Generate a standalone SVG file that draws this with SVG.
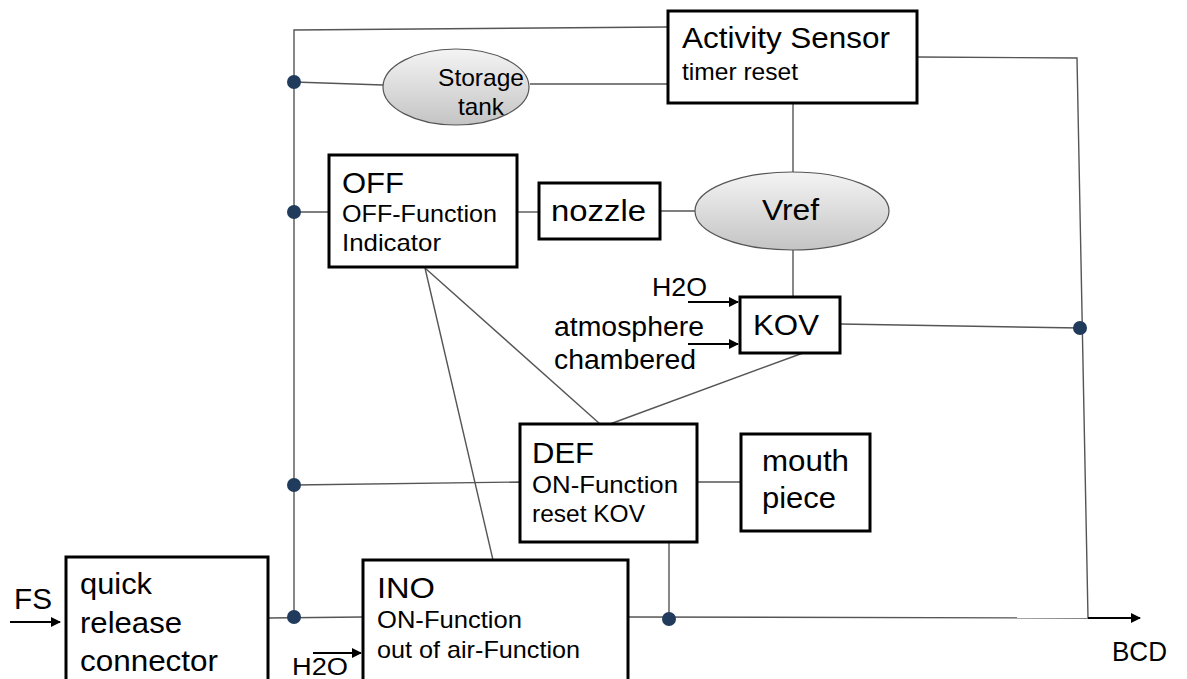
<svg xmlns="http://www.w3.org/2000/svg" width="1187" height="679" viewBox="0 0 1187 679">
<style>
.box{fill:#fff;stroke:#000;stroke-width:3}
.ell{fill:url(#g);stroke:#555;stroke-width:1.2}
.ln{fill:none;stroke:#555;stroke-width:1.4}
.ar{fill:none;stroke:#000;stroke-width:2;marker-end:url(#ah)}
.dot{fill:#203b5c}
text{font-family:"Liberation Sans",Arial,sans-serif;fill:#000}
.big{font-size:29px}
.sm{font-size:24px}
</style>
<defs>
<linearGradient id="g" x1="0" y1="0" x2="0" y2="1">
<stop offset="0" stop-color="#f4f4f4"/>
<stop offset="1" stop-color="#c4c4c4"/>
</linearGradient>
<marker id="ah" viewBox="0 0 10 10" refX="9" refY="5" markerWidth="5" markerHeight="5" orient="auto" markerUnits="strokeWidth">
<path d="M0,0 L10,5 L0,10 z" fill="#000"/>
</marker>
</defs>
<g id="connectors">
<path class="ln" d="M668,27 L294,30 L294,617"/>
<path class="ln" d="M294,82 L383,85"/>
<path class="ln" d="M530,84 L668,84"/>
<path class="ln" d="M917,57 L1077,58 L1088,618"/>
<path class="ln" d="M793,103 L793,172"/>
<path class="ln" d="M294,212 L329,212"/>
<path class="ln" d="M517,212 L539,212"/>
<path class="ln" d="M660,211 L695,211"/>
<path class="ln" d="M793,250 L793,297"/>
<path class="ln" d="M840,324 L1080,328"/>
<path class="ln" d="M425,268 L600,424"/>
<path class="ln" d="M425,268 L493,560"/>
<path class="ln" d="M803,353 L610,424"/>
<path class="ln" d="M294,485 L520,482"/>
<path class="ln" d="M697,482 L741,482"/>
<path class="ln" d="M669,542 L669,619"/>
<path class="ln" d="M268,618 L363,617"/>
<path class="ln" d="M628,617 L1088,618"/>
<path class="ar" d="M1088,618 L1140,618"/>
<path class="ar" d="M10,622 L60,622"/>
<path class="ar" d="M313,653 L361,653"/>
<path class="ar" d="M688,302 L738,302"/>
<path class="ar" d="M688,344 L738,344"/>
<circle class="dot" cx="294" cy="82" r="7"/>
<circle class="dot" cx="294" cy="212" r="7"/>
<circle class="dot" cx="294" cy="485" r="7"/>
<circle class="dot" cx="294" cy="617" r="7"/>
<circle class="dot" cx="1080" cy="328" r="7"/>
<circle class="dot" cx="669" cy="619" r="7"/>
</g>
<g id="activity-sensor">
<rect class="box" x="668" y="11" width="249" height="92"/>
<text class="big" x="682" y="48" textLength="208" lengthAdjust="spacingAndGlyphs">Activity Sensor</text>
<text class="sm" x="682" y="80" textLength="116" lengthAdjust="spacingAndGlyphs">timer reset</text>
</g>
<g id="storage-tank">
<ellipse class="ell" cx="456" cy="87" rx="73" ry="38"/>
<text class="sm" x="438" y="86" textLength="86" lengthAdjust="spacingAndGlyphs">Storage</text>
<text class="sm" x="458" y="115" textLength="46" lengthAdjust="spacingAndGlyphs">tank</text>
</g>
<g id="off">
<rect class="box" x="329" y="155" width="188" height="112"/>
<text class="big" x="342" y="193" textLength="62" lengthAdjust="spacingAndGlyphs">OFF</text>
<text class="sm" x="342" y="222" textLength="155" lengthAdjust="spacingAndGlyphs">OFF-Function</text>
<text class="sm" x="342" y="251" textLength="99" lengthAdjust="spacingAndGlyphs">Indicator</text>
</g>
<g id="nozzle">
<rect class="box" x="539" y="183" width="121" height="56"/>
<text class="big" x="551" y="221" textLength="95" lengthAdjust="spacingAndGlyphs">nozzle</text>
</g>
<g id="vref">
<ellipse class="ell" cx="792" cy="211" rx="97" ry="39"/>
<text class="big" x="762" y="220" textLength="57" lengthAdjust="spacingAndGlyphs">Vref</text>
</g>
<g id="kov">
<rect class="box" x="740" y="297" width="100" height="56"/>
<text class="big" x="753" y="335" textLength="66" lengthAdjust="spacingAndGlyphs">KOV</text>
</g>
<g id="kov-inputs">
<text class="sm" x="652" y="296" textLength="55" lengthAdjust="spacingAndGlyphs" style="font-size:25px">H2O</text>
<text class="sm" x="554" y="336" textLength="150" lengthAdjust="spacingAndGlyphs" style="font-size:27px">atmosphere</text>
<text class="sm" x="554" y="369" textLength="142" lengthAdjust="spacingAndGlyphs" style="font-size:27px">chambered</text>
</g>
<g id="def">
<rect class="box" x="520" y="424" width="177" height="118"/>
<text class="big" x="532" y="463" textLength="62" lengthAdjust="spacingAndGlyphs">DEF</text>
<text class="sm" x="532" y="493" textLength="146" lengthAdjust="spacingAndGlyphs">ON-Function</text>
<text class="sm" x="532" y="522" textLength="113" lengthAdjust="spacingAndGlyphs">reset KOV</text>
</g>
<g id="mouth-piece">
<rect class="box" x="741" y="434" width="129" height="97"/>
<text class="big" x="762" y="471" textLength="87" lengthAdjust="spacingAndGlyphs">mouth</text>
<text class="big" x="762" y="508" textLength="74" lengthAdjust="spacingAndGlyphs">piece</text>
</g>
<g id="ino">
<rect class="box" x="363" y="560" width="265" height="125"/>
<text class="big" x="377" y="598" textLength="58" lengthAdjust="spacingAndGlyphs">INO</text>
<text class="sm" x="377" y="628" textLength="145" lengthAdjust="spacingAndGlyphs">ON-Function</text>
<text class="sm" x="377" y="658" textLength="203" lengthAdjust="spacingAndGlyphs">out of air-Function</text>
</g>
<g id="quick-release-connector">
<rect class="box" x="66" y="557" width="202" height="130"/>
<text class="big" x="80" y="594" textLength="72" lengthAdjust="spacingAndGlyphs">quick</text>
<text class="big" x="80" y="633" textLength="102" lengthAdjust="spacingAndGlyphs">release</text>
<text class="big" x="80" y="671" textLength="138" lengthAdjust="spacingAndGlyphs">connector</text>
</g>
<g id="labels">
<text class="big" x="14" y="609" textLength="38" lengthAdjust="spacingAndGlyphs">FS</text>
<text class="sm" x="292" y="675" textLength="56" lengthAdjust="spacingAndGlyphs" style="font-size:23px">H2O</text>
<text class="big" x="1112" y="661" textLength="55" lengthAdjust="spacingAndGlyphs" style="font-size:28px">BCD</text>
</g>
</svg>
